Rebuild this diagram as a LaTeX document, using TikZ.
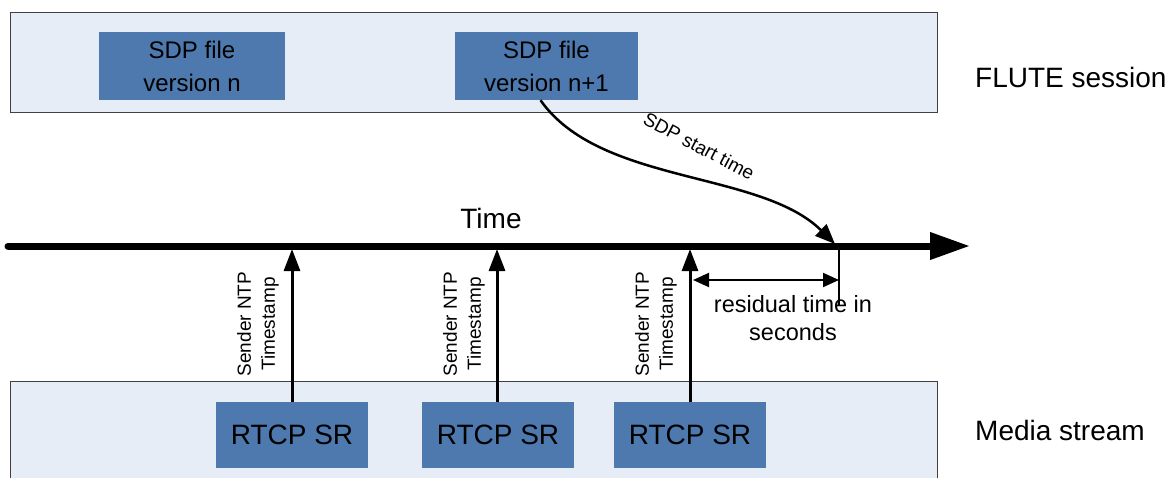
\documentclass[tikz,border=0pt]{standalone}
\usepackage{fontspec}
\setmainfont{Liberation Sans}
\usetikzlibrary{arrows.meta}
\definecolor{panelfill}{HTML}{E6EDF7}
\definecolor{boxfill}{HTML}{4E79AE}
\tikzset{
  panel/.style={draw=black!75, line width=1pt, fill=panelfill, anchor=north west,
    minimum width=927pt, inner sep=0pt},
  bluebox/.style={fill=boxfill, inner sep=0pt, align=center},
  ntplabel/.style={rotate=90, align=center, font=\fontsize{19}{24}\selectfont},
  bigtext/.style={font=\fontsize{28}{32}\selectfont, inner sep=0pt},
}
\begin{document}
\begin{tikzpicture}[x=1pt, y=-1pt]
    \clip (0,0) rectangle (1176,477);

    % panels
    \node[panel, minimum height=100pt] (flute) at (10,12) {};
    \node[panel, minimum height=110pt] (media) at (10,381) {};
    \node[bigtext, anchor=west] (flutelab) at (975,77) {FLUTE session};
    \node[bigtext, anchor=west] (medialab) at (975,430) {Media stream};

    % SDP files
    \node[bluebox, minimum width=186pt, minimum height=68pt,
      font=\fontsize{24}{33}\selectfont] (sdp1) at (192,66) {SDP file\\version n};
    \node[bluebox, minimum width=183pt, minimum height=68pt,
      font=\fontsize{24}{33}\selectfont] (sdp2) at (546.5,66) {SDP file\\version n+1};

    % time axis
    \coordinate (tleft) at (8,246);
    \coordinate (tright) at (970,246);
    \draw[line width=7pt, line cap=round, -{Triangle[length=40pt,width=26pt]}] (tleft) -- (tright);
    \node[bigtext] (timelab) at (491,218) {Time};

    % RTCP sender reports
    \node[bluebox, bigtext, minimum width=152pt, minimum height=66pt] (rtcp1) at (292,435) {RTCP SR};
    \node[bluebox, bigtext, minimum width=152pt, minimum height=66pt] (rtcp2) at (498,435) {RTCP SR};
    \node[bluebox, bigtext, minimum width=152pt, minimum height=66pt] (rtcp3) at (690,435) {RTCP SR};

    \coordinate (ntp1) at (292,249);
    \coordinate (ntp2) at (497,249);
    \coordinate (ntp3) at (690,249);
    \draw[line width=3pt, -{Triangle[length=22pt,width=16pt]}] (rtcp1.north) -- (ntp1);
    \draw[line width=3pt, -{Triangle[length=22pt,width=16pt]}] (rtcp2.north -| ntp2) -- (ntp2);
    \draw[line width=3pt, -{Triangle[length=22pt,width=16pt]}] (rtcp3.north) -- (ntp3);

    \node[ntplabel] (ntplab1) at (258,324) {Sender NTP\\Timestamp};
    \node[ntplabel] (ntplab2) at (464,324) {Sender NTP\\Timestamp};
    \node[ntplabel] (ntplab3) at (656,324) {Sender NTP\\Timestamp};

    % start time of the new SDP file
    \coordinate (sdpstart) at (835,244);
    \draw[line width=2.5pt, -{Triangle[length=20pt,width=16pt]}]
      ([xshift=-6pt]sdp2.south) .. controls (600,185) and (760,170) .. (sdpstart);
    \node[rotate=-28, font=\fontsize{19}{22}\selectfont] (startlab) at (699,146) {SDP start time};

    % residual time
    \coordinate (resbottom) at (839,305);
    \coordinate (resleft) at (693,280);
    \coordinate (resright) at (839,280);
    \draw[line width=2pt] (839,246) -- (resbottom);
    \draw[line width=2pt, {Triangle[length=16pt,width=14pt]}-{Triangle[length=16pt,width=14pt]}] (resleft) -- (resright);
    \node[align=center, font=\fontsize{23.5}{28}\selectfont] (reslab) at (793,318) {residual time in\\seconds};
\end{tikzpicture}
\end{document}
